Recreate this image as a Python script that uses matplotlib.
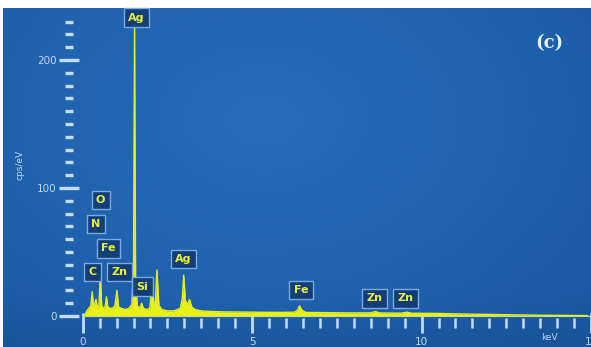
import numpy as np
import matplotlib
matplotlib.use("Agg")
import matplotlib.pyplot as plt
from matplotlib.ticker import FixedLocator

# EDS spectrum trace (keV, cps/eV)
energy = [0.05, 0.12, 0.18, 0.24, 0.28, 0.32, 0.36, 0.39, 0.43, 0.48, 0.52, 0.56,
          0.61, 0.66, 0.70, 0.74, 0.80, 0.88, 0.95, 1.01, 1.06, 1.14, 1.25, 1.36,
          1.45, 1.50, 1.53, 1.56, 1.61, 1.68, 1.74, 1.79, 1.88, 1.98, 2.05, 2.10,
          2.14, 2.19, 2.25, 2.34, 2.50, 2.70, 2.88, 2.94, 2.98, 3.03, 3.10, 3.15,
          3.22, 3.32, 3.50, 3.80, 4.20, 5.00, 5.80, 6.25, 6.34, 6.40, 6.47, 6.58,
          7.20, 8.00, 8.50, 8.63, 8.76, 9.40, 9.57, 9.70, 10.5, 11.5, 12.5, 13.5,
          14.9]
counts = [0, 4, 6, 8, 19, 7, 10, 13, 7, 8, 33, 8,
          6, 7, 15, 7, 6, 6, 8, 20, 7, 6, 5, 6,
          9, 40, 228, 30, 8, 6, 10, 6, 5, 6, 28, 9,
          8, 36, 8, 5, 4, 4, 6, 14, 32, 12, 9, 13,
          7, 5, 4, 3.5, 3.2, 3, 2.8, 3, 4.5, 8, 4.5, 2.8,
          2.6, 2.4, 2.5, 3.5, 2.4, 2.2, 3, 2.2, 2, 1.4, 1, 0.6,
          0.3]

# Element labels
label_text = ["Ag", "O", "N", "Fe", "C", "Zn", "Si", "Ag", "Fe", "Zn", "Zn"]
label_kev = [1.59, 0.53, 0.38, 0.76, 0.29, 1.09, 1.76, 2.97, 6.44, 8.62, 9.53]
label_cps = [233, 90.6, 71.9, 53.0, 34.4, 34.4, 22.7, 44.5, 20.3, 14.0, 14.0]

x_ticks = [0, 5, 10, 15]
y_ticks = [0, 100, 200]
x_minor = [0.5 * i for i in range(1, 30) if i % 10 != 0]
y_minor = [10 * i for i in range(1, 24) if i % 10 != 0]

W, H = 591, 347
fig = plt.figure(figsize=(W / 100, H / 100), dpi=100, facecolor="white")

# blue panel with a soft gradient
bx0, btop = 3, 8
bg = fig.add_axes([bx0 / W, 0, 1 - bx0 / W, (H - btop) / H])
ph, pw = H - btop, W - bx0
yy, xx = np.mgrid[0:ph, 0:pw]
r = np.sqrt(((xx - 260) / 430.0) ** 2 + ((yy - 110) / 300.0) ** 2)
r = np.clip(r, 0, 1)
c_in = np.array([38, 110, 188]) / 255.0
c_out = np.array([27, 89, 163]) / 255.0
img = c_in[None, None, :] * (1 - r[..., None]) + c_out[None, None, :] * r[..., None]
shade = 1 - 0.07 * np.clip((yy - 290) / 49.0, 0, 1)
img *= shade[..., None]
bg.imshow(img, aspect="auto", extent=[0, 1, 0, 1], interpolation="bilinear")
bg.axis("off")

ax = fig.add_axes([0, 0, 1, 1])
ax.set_facecolor("none")
px_per_kev = 34.0
px_per_cps = 1.28
x0, y0 = 83.0, 316.0
ax.set_xlim(-x0 / px_per_kev, (W - x0) / px_per_kev)
ax.set_ylim(-(H - y0) / px_per_cps, y0 / px_per_cps)

yellow = "#e8f01a"
ax.fill_between(energy, 0, counts, color=yellow, linewidth=0, zorder=3)
ax.plot(energy, counts, color=yellow, linewidth=1.0, zorder=3)
ax.axhline(0, xmin=(x0 + 0) / W, color="#a9c9ee", linewidth=0.8, zorder=2)

for s in ax.spines.values():
    s.set_visible(False)
ax.spines["left"].set_position(("data", -0.40))
ax.spines["bottom"].set_position(("data", -5.5))

tick_col = "#c6dcf6"
ax.set_xticks(x_ticks)
ax.set_xticklabels([str(t) for t in x_ticks])
ax.set_yticks(y_ticks)
ax.set_yticklabels([str(t) for t in y_ticks])
ax.xaxis.set_minor_locator(FixedLocator(x_minor))
ax.yaxis.set_minor_locator(FixedLocator(y_minor))
ax.tick_params(axis="y", which="major", direction="inout", length=14, width=2.4,
               color=tick_col, labelcolor="#c2d7f1", labelsize=7.5, pad=2)
ax.tick_params(axis="y", which="minor", direction="inout", length=6, width=2.4,
               color=tick_col)
ax.tick_params(axis="x", which="major", direction="inout", length=14, width=2.0,
               color=tick_col, labelcolor="#c2d7f1", labelsize=7.5, pad=3)
ax.tick_params(axis="x", which="minor", direction="inout", length=7, width=1.8,
               color=tick_col)

ax.text(20 / W, 1 - 165 / H, "cps/eV", transform=fig.transFigure, rotation=90,
        ha="center", va="center", color="#c2d7f1", fontsize=6.5)
ax.text(549 / W, 1 - 338 / H, "keV", transform=fig.transFigure,
        ha="center", va="center", color="#c2d7f1", fontsize=6.5)
ax.text(549 / W, 1 - 43 / H, "(c)", transform=fig.transFigure,
        ha="center", va="center", color="#e4edf9", fontsize=13,
        family="DejaVu Serif", fontweight="bold")

for t, xk, yc in zip(label_text, label_kev, label_cps):
    ax.text(xk, yc, t, ha="center", va="center", color="#e6f23a",
            fontsize=8, fontweight="bold", zorder=5,
            bbox=dict(boxstyle="square,pad=0.4", facecolor="#143c73",
                      edgecolor="#7fb0e6", linewidth=1.0, alpha=0.95))

fig.savefig("out.png", dpi=100, facecolor="white")
